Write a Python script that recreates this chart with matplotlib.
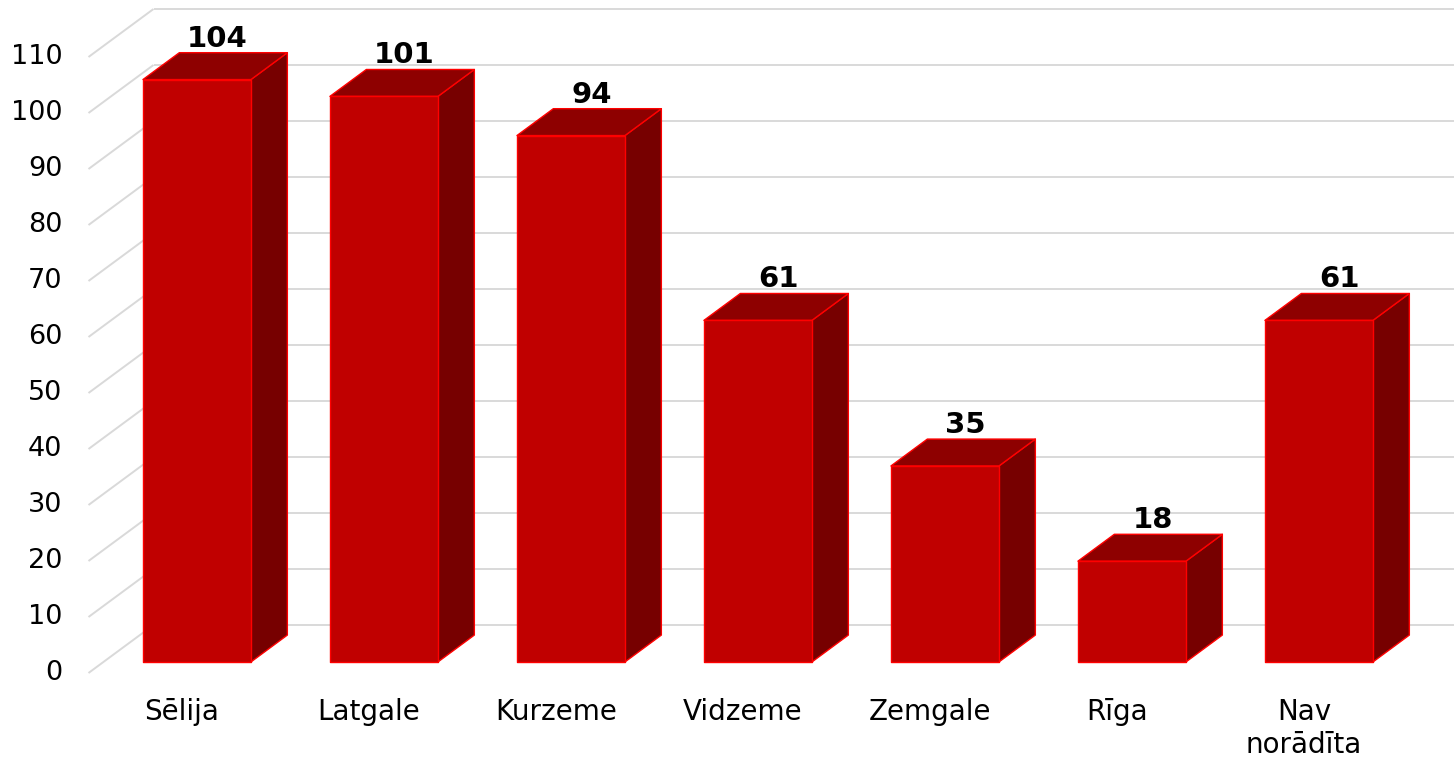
import matplotlib
matplotlib.use("Agg")
import matplotlib.pyplot as plt
from matplotlib.patches import Polygon

categories = ["Sēlija", "Latgale", "Kurzeme", "Vidzeme", "Zemgale", "Rīga", "Nav\nnorādīta"]
values = [104, 101, 94, 61, 35, 18, 61]
yticks = list(range(0, 111, 10))

plt.rcParams['font.family'] = ['DejaVu Sans']

W, H = 1454, 757
fig = plt.figure(figsize=(W / 100, H / 100), dpi=100)
ax = fig.add_axes([0, 0, 1, 1])
# axis scale: category step 187 px, 5.6 px per unit
px_cat = 187.0
px_val = 5.6
x0_px = 182.0
y0_px = H - 673.0
ax.set_xlim(-x0_px / px_cat, (W - x0_px) / px_cat)
ax.set_ylim(-y0_px / px_val, (H - y0_px) / px_val)
ax.axis('off')

# full floor depth offset in data units
DX = 65.0 / px_cat
DY = 48.0 / px_val
n = len(categories)
xl, xr = -0.5, n - 0.5
grid_c = '#D9D9D9'

for v in yticks:
    ax.plot([xl, xl + DX], [v, v + DY], color=grid_c, lw=1.4, zorder=1, solid_capstyle='butt')
    ax.plot([xl + DX, xr + DX], [v + DY, v + DY], color=grid_c, lw=1.4, zorder=1, solid_capstyle='butt')
    ax.text(xl - 0.14, v, str(v), ha='right', va='center', fontsize=19.5, color='#000000')

d0, d1 = 0.23, 0.79
bw = 108.0 / px_cat
front_c, top_c, side_c, edge_c = '#C00000', '#8E0000', '#770000', '#FF0000'

for i, (cat, v) in enumerate(zip(categories, values)):
    fx0 = i - bw / 2 + d0 * DX
    fx1 = i + bw / 2 + d0 * DX
    fy0 = d0 * DY
    fy1 = v + d0 * DY
    ddx = (d1 - d0) * DX
    ddy = (d1 - d0) * DY
    front = [(fx0, fy0), (fx1, fy0), (fx1, fy1), (fx0, fy1)]
    top = [(fx0, fy1), (fx1, fy1), (fx1 + ddx, fy1 + ddy), (fx0 + ddx, fy1 + ddy)]
    side = [(fx1, fy0), (fx1 + ddx, fy0 + ddy), (fx1 + ddx, fy1 + ddy), (fx1, fy1)]
    for poly, c in ((side, side_c), (top, top_c), (front, front_c)):
        ax.add_patch(Polygon(poly, closed=True, facecolor=c, edgecolor=edge_c,
                             lw=1.0, joinstyle='round', zorder=3))
    ax.text(i + 0.19, v + d1 * DY + 1.1, str(v), ha='center', va='baseline',
            fontsize=21, fontweight='bold', color='#000000', zorder=5)
    ax.text(i, -4.4, cat, ha='center', va='top', fontsize=20, color='#000000',
            linespacing=1.26)

fig.savefig('out.png', dpi=100, facecolor='white')
